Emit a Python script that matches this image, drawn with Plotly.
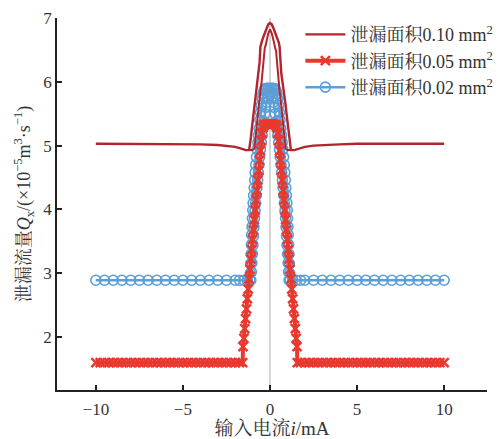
import plotly.graph_objects as go

# ---------------- data ----------------
# leakage area 0.10 mm^2 : outer and inner branch
x10_outer = [-10, -9, -8, -7, -6, -5, -4, -3, -2.5, -2, -1.6, -1.4,
             -1.2, -1.15, -1.1, -1.05, -1.0, -0.95, -0.9, -0.85, -0.8, -0.75, -0.7, -0.65, -0.6, -0.55, -0.5, -0.45, -0.4,
             -0.3, -0.2, -0.1, 0, 0.1, 0.2, 0.3,
             0.4, 0.45, 0.5, 0.55, 0.6, 0.65, 0.7, 0.75, 0.8, 0.85, 0.9, 0.95, 1.0, 1.05, 1.1, 1.15, 1.2,
             1.4, 1.6, 2, 2.5, 3, 4, 5, 6, 7, 8, 9, 10]
y10_outer = [5.03, 5.03, 5.03, 5.03, 5.03, 5.03, 5.02, 5.01, 5.0, 4.98, 4.95, 4.93,
             4.93, 5.0, 5.12, 5.25, 5.37, 5.5, 5.63, 5.75, 5.85, 5.94, 6.03, 6.13, 6.3, 6.55, 6.62, 6.65, 6.69,
             6.77, 6.84, 6.9, 6.92, 6.9, 6.84, 6.77,
             6.69, 6.65, 6.62, 6.55, 6.3, 6.13, 6.03, 5.94, 5.85, 5.75, 5.63, 5.5, 5.37, 5.25, 5.12, 5.0, 4.93,
             4.93, 4.95, 4.98, 5.0, 5.01, 5.02, 5.03, 5.03, 5.03, 5.03, 5.03, 5.03]
x10_inner = [-1.2, -1.0, -0.9, -0.85, -0.8, -0.75, -0.7, -0.65, -0.6, -0.55, -0.5, -0.45, -0.4, -0.35, -0.3, -0.25, -0.2, -0.1,
             0,
             0.1, 0.2, 0.25, 0.3, 0.35, 0.4, 0.45, 0.5, 0.55, 0.6, 0.65, 0.7, 0.75, 0.8, 0.85, 0.9, 1.0, 1.2]
y10_inner = [4.93, 4.93, 4.95, 5.05, 5.2, 5.35, 5.5, 5.63, 5.75, 5.85, 5.95, 6.1, 6.3, 6.48, 6.53, 6.57, 6.65, 6.76,
             6.82,
             6.76, 6.65, 6.57, 6.53, 6.48, 6.3, 6.1, 5.95, 5.85, 5.75, 5.63, 5.5, 5.35, 5.2, 5.05, 4.95, 4.93, 4.93]

# leakage area 0.05 mm^2
x05 = [-10, -9.75, -9.5, -9.25, -9, -8.75, -8.5, -8.25, -8, -7.75, -7.5, -7.25, -7, -6.75, -6.5, -6.25, -6,
       -5.75, -5.5, -5.25, -5, -4.75, -4.5, -4.25, -4, -3.75, -3.5, -3.25, -3, -2.75, -2.5, -2.25, -2, -1.75,
       -1.57, -1.55, -1.5, -1.45, -1.4, -1.35, -1.3, -1.25, -1.2, -1.15, -1.1, -1.05, -1.0, -0.95, -0.9,
       -0.85, -0.8, -0.75, -0.7, -0.65, -0.6, -0.55, -0.5, -0.45, -0.4, -0.35, -0.3,
       -0.2, -0.1, 0, 0.1, 0.2,
       0.3, 0.35, 0.4, 0.45, 0.5, 0.55, 0.6, 0.65, 0.7, 0.75, 0.8, 0.85, 0.9, 0.95, 1.0, 1.05, 1.1,
       1.15, 1.2, 1.25, 1.3, 1.35, 1.4, 1.45, 1.5, 1.55, 1.57,
       1.75, 2, 2.25, 2.5, 2.75, 3, 3.25, 3.5, 3.75, 4, 4.25, 4.5, 4.75, 5, 5.25, 5.5, 5.75, 6,
       6.25, 6.5, 6.75, 7, 7.25, 7.5, 7.75, 8, 8.25, 8.5, 8.75, 9, 9.25, 9.5, 9.75, 10]
y05 = [1.6, 1.6, 1.6, 1.6, 1.6, 1.6, 1.6, 1.6, 1.6, 1.6, 1.6, 1.6, 1.6, 1.6, 1.6, 1.6, 1.6,
       1.6, 1.6, 1.6, 1.6, 1.6, 1.6, 1.6, 1.6, 1.6, 1.6, 1.6, 1.6, 1.6, 1.6, 1.6, 1.6, 1.6,
       1.6, 1.85, 1.98, 2.13, 2.29, 2.44, 2.6, 2.75, 2.91, 3.06, 3.22, 3.37, 3.53, 3.68, 3.84,
       3.99, 4.15, 4.3, 4.46, 4.61, 4.77, 4.92, 5.08, 5.2, 5.28, 5.32, 5.33,
       5.34, 5.34, 5.34, 5.34, 5.34,
       5.33, 5.32, 5.28, 5.2, 5.08, 4.92, 4.77, 4.61, 4.46, 4.3, 4.15, 3.99, 3.84, 3.68, 3.53, 3.37, 3.22,
       3.06, 2.91, 2.75, 2.6, 2.44, 2.29, 2.13, 1.98, 1.85, 1.6,
       1.6, 1.6, 1.6, 1.6, 1.6, 1.6, 1.6, 1.6, 1.6, 1.6, 1.6, 1.6, 1.6, 1.6, 1.6, 1.6, 1.6, 1.6,
       1.6, 1.6, 1.6, 1.6, 1.6, 1.6, 1.6, 1.6, 1.6, 1.6, 1.6, 1.6, 1.6, 1.6, 1.6, 1.6]

# leakage area 0.02 mm^2 : outer and inner branch
x02_outer = [-10, -9.5, -9, -8.5, -8, -7.5, -7, -6.5, -6, -5.5, -5, -4.5, -4, -3.5, -3, -2.5, -2, -1.75, -1.5, -1.3,
             -1.15, -1.13, -1.11, -1.09, -1.07, -1.05, -1.03, -1.01, -0.99, -0.97, -0.94, -0.91, -0.88, -0.85,
             -0.82, -0.78, -0.74, -0.7, -0.66, -0.62, -0.58, -0.54, -0.5, -0.45, -0.4, -0.35, -0.3,
             -0.2, -0.1, 0, 0.1, 0.2,
             0.3, 0.35, 0.4, 0.45, 0.5, 0.54, 0.58, 0.62, 0.66, 0.7, 0.74, 0.78, 0.82, 0.85, 0.88, 0.91, 0.94,
             0.97, 0.99, 1.01, 1.03, 1.05, 1.07, 1.09, 1.11, 1.13, 1.15,
             1.3, 1.5, 1.75, 2, 2.5, 3, 3.5, 4, 4.5, 5, 5.5, 6, 6.5, 7, 7.5, 8, 8.5, 9, 9.5, 10]
y02_outer = [2.89, 2.89, 2.89, 2.89, 2.89, 2.89, 2.89, 2.89, 2.89, 2.89, 2.89, 2.89, 2.89, 2.89, 2.89, 2.89, 2.89, 2.89, 2.89, 2.89,
             2.89, 3.0, 3.15, 3.3, 3.45, 3.6, 3.73, 3.86, 3.99, 4.1, 4.22, 4.34, 4.46, 4.58,
             4.7, 4.82, 4.94, 5.05, 5.16, 5.27, 5.4, 5.52, 5.63, 5.73, 5.81, 5.86, 5.89,
             5.9, 5.9, 5.9, 5.9, 5.9,
             5.89, 5.86, 5.81, 5.73, 5.63, 5.52, 5.4, 5.27, 5.16, 5.05, 4.94, 4.82, 4.7, 4.58, 4.46, 4.34, 4.22,
             4.1, 3.99, 3.86, 3.73, 3.6, 3.45, 3.3, 3.15, 3.0, 2.89,
             2.89, 2.89, 2.89, 2.89, 2.89, 2.89, 2.89, 2.89, 2.89, 2.89, 2.89, 2.89, 2.89, 2.89, 2.89, 2.89, 2.89, 2.89, 2.89, 2.89]
x02_inner = [-1.1, -1.07, -1.04, -1.01, -0.98, -0.95, -0.92, -0.89, -0.86, -0.83, -0.79, -0.75, -0.71,
             -0.67, -0.63, -0.59, -0.55, -0.5, -0.45, -0.4, -0.35, -0.3, -0.25, -0.2, -0.1,
             0,
             0.1, 0.2, 0.25, 0.3, 0.35, 0.4, 0.45, 0.5, 0.55, 0.59, 0.63, 0.67,
             0.71, 0.75, 0.79, 0.83, 0.86, 0.89, 0.92, 0.95, 0.98, 1.01, 1.04, 1.07, 1.1]
y02_inner = [2.89, 3.02, 3.16, 3.3, 3.44, 3.58, 3.72, 3.86, 3.98, 4.1, 4.22, 4.34, 4.46,
             4.58, 4.7, 4.82, 4.94, 5.05, 5.16, 5.27, 5.38, 5.5, 5.6, 5.68, 5.76,
             5.79,
             5.76, 5.68, 5.6, 5.5, 5.38, 5.27, 5.16, 5.05, 4.94, 4.82, 4.7, 4.58,
             4.46, 4.34, 4.22, 4.1, 3.98, 3.86, 3.72, 3.58, 3.44, 3.3, 3.16, 3.02, 2.89]

for a, b in [(x10_outer, y10_outer), (x10_inner, y10_inner), (x05, y05),
             (x02_outer, y02_outer), (x02_inner, y02_inner)]:
    assert len(a) == len(b), (len(a), len(b))

names = ["泄漏面积0.10 mm<sup>2</sup>", "泄漏面积0.05 mm<sup>2</sup>", "泄漏面积0.02 mm<sup>2</sup>"]
x_ticks = [-10, -5, 0, 5, 10]
y_ticks = [2, 3, 4, 5, 6, 7]

C10 = "#b3242c"
C05 = "#e8392e"
C02 = "#5b9fd6"
FONT = "Liberation Serif, 'Noto Serif CJK SC', 'Noto Sans CJK SC', serif"

fig = go.Figure()

# blue (drawn first, below the red ones)
fig.add_trace(go.Scatter(x=x02_outer, y=y02_outer, mode="lines+markers", name=names[2],
                         line=dict(color=C02, width=2.5),
                         marker=dict(symbol="circle-open", size=10, color=C02, line=dict(width=1.6)),
                         legendrank=3))
fig.add_trace(go.Scatter(x=x02_inner, y=y02_inner, mode="lines+markers", showlegend=False,
                         line=dict(color=C02, width=2.5),
                         marker=dict(symbol="circle-open", size=10, color=C02, line=dict(width=1.6))))
# red 0.05
fig.add_trace(go.Scatter(x=x05, y=y05, mode="lines+markers", name=names[1],
                         line=dict(color=C05, width=4),
                         marker=dict(symbol="x-thin-open", size=9, color=C05, line=dict(width=2.5, color=C05)),
                         legendrank=2))
# dark red 0.10
fig.add_trace(go.Scatter(x=x10_outer, y=y10_outer, mode="lines", name=names[0],
                         line=dict(color=C10, width=2.4), legendrank=1))
fig.add_trace(go.Scatter(x=x10_inner, y=y10_inner, mode="lines", showlegend=False,
                         line=dict(color=C10, width=2)))

fig.add_shape(type="line", x0=0, x1=0, y0=0, y1=1, xref="x", yref="paper",
              line=dict(color="#c8c8c8", width=1.5), layer="below")

axis_common = dict(showgrid=False, zeroline=False, showline=True, linecolor="#222",
                   linewidth=1.5, ticks="inside", ticklen=5, tickwidth=1.5, tickcolor="#222",
                   tickfont=dict(size=17, color="#333", family=FONT), mirror=False)

fig.update_layout(
    width=503, height=439,
    margin=dict(l=57, r=16, t=18, b=49, autoexpand=False),
    plot_bgcolor="white", paper_bgcolor="white",
    font=dict(family=FONT, color="#333", size=17),
    xaxis=dict(range=[-12.23, 12.46], tickvals=x_ticks, ticklabelstandoff=3,
               title=dict(text="输入电流<i>i</i>/mA", font=dict(size=19), standoff=8),
               **axis_common),
    yaxis=dict(range=[1.17, 7.0], tickvals=y_ticks,
               title=dict(text="泄漏流量<i>Q</i><sub>x</sub>/(×10<sup>−5</sup>m<sup>3</sup>·s<sup>−1</sup>)",
                          font=dict(size=18), standoff=8),
               **axis_common),
    legend=dict(x=0.566, y=1.005, xanchor="left", yanchor="top", bgcolor="rgba(0,0,0,0)",
                font=dict(size=18, color="#333", family=FONT), itemwidth=40,
                tracegroupgap=0),
    showlegend=True,
)

fig.write_html("out.html")
